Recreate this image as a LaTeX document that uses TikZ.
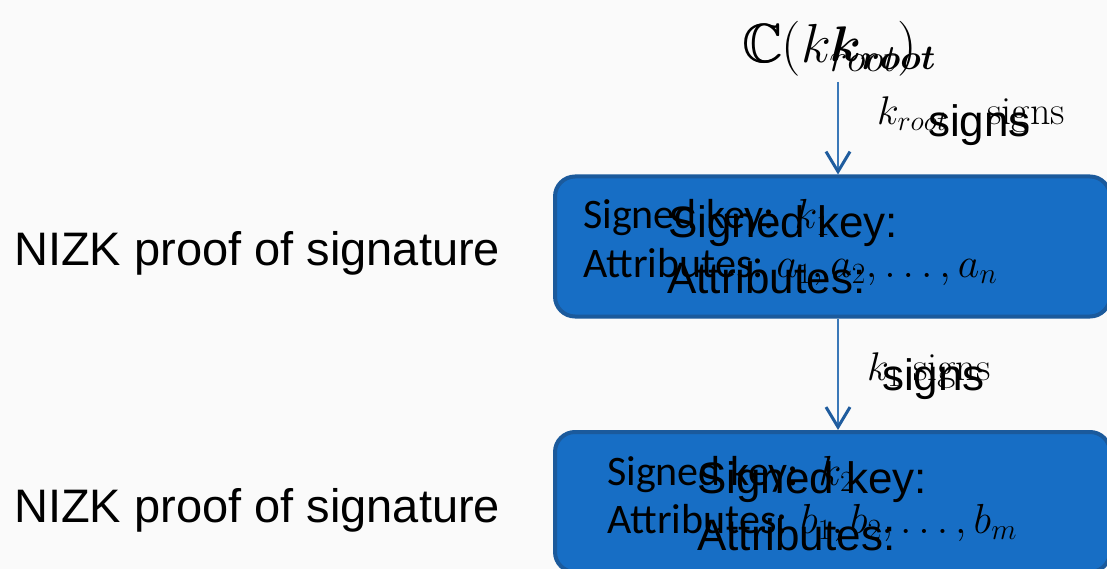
\RequirePackage{fix-cm}
\documentclass[tikz,border=0pt]{standalone}
\usepackage{amssymb}
\usepackage{fontspec}
\newfontfamily\arialf{Liberation Sans}
\newfontfamily\calibrif{Carlito}
\usetikzlibrary{arrows.meta}
\definecolor{bg}{HTML}{FAFAFA}
\definecolor{boxfill}{HTML}{176EC5}
\definecolor{boxline}{HTML}{1B5A9C}
\definecolor{connline}{HTML}{3A78B8}
\definecolor{headcol}{HTML}{1F5C9E}
\tikzset{
  keybox/.style={draw=boxline, line width=4pt, fill=boxfill, rounded corners=20pt,
    minimum width=555pt, minimum height=140pt, inner sep=0pt},
  conn/.style={draw=connline, line width=1.5pt,
    -{Straight Barb[length=20pt,width=24pt,line width=3pt,color=headcol]}},
  txt/.style={anchor=base west, inner sep=0pt, text=black},
  small/.style={txt, font=\calibrif\fontsize{42}{48}\selectfont},
  big/.style={txt, font=\arialf\fontsize{44}{50}\selectfont},
  side/.style={txt, font=\arialf\fontsize{47}{54}\selectfont},
  lbl/.style={txt, font=\fontsize{40}{44}\selectfont},
}
\begin{document}
\begin{tikzpicture}[x=1pt,y=-1pt]
\useasboundingbox[fill=bg] (0,0) rectangle (1107,569);
\clip (0,0) rectangle (1107,569);
% title
\node[txt, font=\fontsize{55}{60}\selectfont] (title) at (742,63) {$\mathbb{C}(k_{root})$};
\node[txt, font=\fontsize{55}{60}\selectfont] (titlec) at (743.2,63) {$\mathbb{C}$};
\node[txt, font=\fontsize{50}{60}\selectfont\boldmath] (titleb) at (830,62) {$k_{root}$};
\coordinate (a1) at (838,82);
% boxes
\node[keybox] (box1) at (832.5,246.5) {};
\node[keybox] (box2) at (832.5,502) {};
% connectors
\draw[conn] (a1) -- (box1.north -| a1);
\draw[conn] (box1.south -| a1) -- (box2.north -| a1);
% connector labels
\node[lbl] (l1) at (877,125) {$k_{root}$\hspace{40pt}signs};
\node[big] (l1b) at (928,137) {signs};
\node[lbl] (l2) at (867,380) {$k_1$ signs};
\node[big] (l2b) at (882,390) {signs};
% box 1 text
\node[small] (b1a) at (583,229) {Signed key: \,$k_1$};
\node[small] (b1b) at (583,277) {Attributes: $a_1, a_2, \ldots, a_n$};
\node[big] (b1c) at (668,237) {Signed key:};
\node[big] (b1d) at (667,293) {Attributes:};
% box 2 text
\node[small] (b2a) at (607,485) {Signed key: \,$k_2$};
\node[small] (b2b) at (607,533) {Attributes: $b_1, b_2, \ldots, b_m$};
\node[big] (b2c) at (697,493) {Signed key:};
\node[big] (b2d) at (697,550) {Attributes:};
% side labels
\node[side] (n1) at (14,265) {NIZK proof of signature};
\node[side] (n2) at (14,522) {NIZK proof of signature};
\end{tikzpicture}
\end{document}
